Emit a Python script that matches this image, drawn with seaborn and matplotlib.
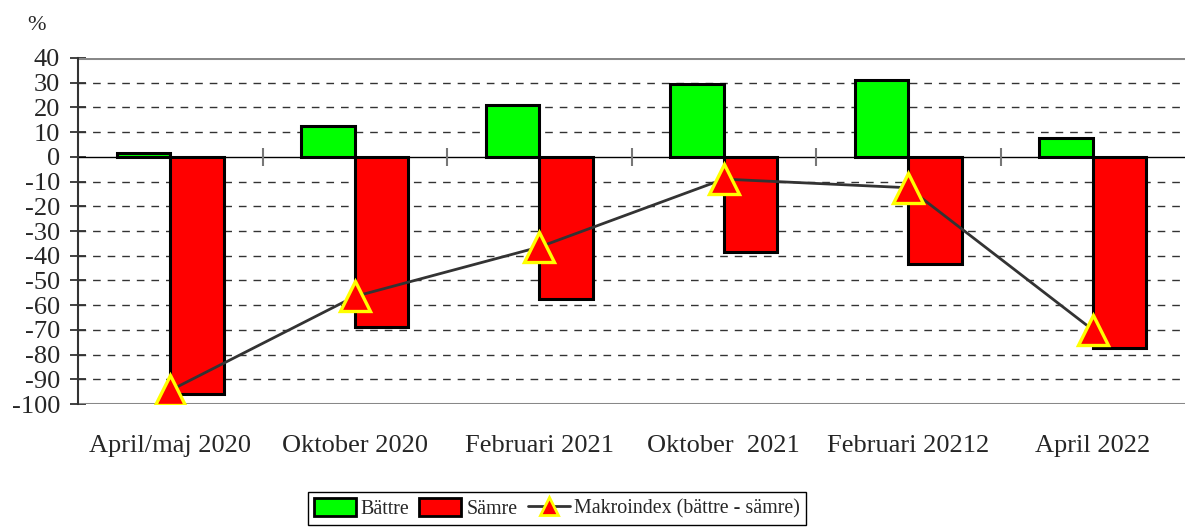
import pandas as pd
import seaborn as sns
import matplotlib.pyplot as plt
from matplotlib.patches import Patch
from matplotlib.lines import Line2D

# Survey rounds and answers (percent)
periods = ["April/maj 2020", "Oktober 2020", "Februari 2021",
           "Oktober  2021", "Februari 20212", "April 2022"]
battre = [1.5, 12.5, 21, 29.5, 31, 7.5]
samre = [-96, -69, -57.5, -38.5, -43.5, -77.5]
makroindex = [-94.5, -56.5, -36.5, -9, -12.5, -70]
y_ticks = list(range(-100, 41, 10))

sns.set_theme(style="white")
plt.rcParams["font.family"] = ["Liberation Serif", "DejaVu Serif"]
plt.rcParams["axes.unicode_minus"] = False

df = pd.DataFrame({
    "period": periods * 2,
    "value": battre + samre,
    "serie": ["Bättre"] * len(periods) + ["Sämre"] * len(periods),
})

fig = plt.figure(figsize=(11.85, 5.27), dpi=100)
ax = fig.add_axes([78 / 1185, 1 - 404 / 527, 1 - 78 / 1185, (404 - 58) / 527])

# dashed grid first so bars sit on top
for y in y_ticks:
    if y in (0, 40, -100):
        continue
    ax.axhline(y, color="#333333", lw=1, ls=(0, (5.5, 5)), zorder=0)
ax.axhline(40, color="#888888", lw=2.2, zorder=1)
ax.axhline(-100, color="#888888", lw=2.2, zorder=1)
ax.axhline(0, color="black", lw=1, zorder=1)

sns.barplot(data=df, x="period", y="value", hue="serie",
            palette={"Bättre": "#00ff00", "Sämre": "#ff0000"},
            saturation=1, width=0.58, edgecolor="black", linewidth=2.2,
            legend=False, ax=ax, zorder=2)

# category separators on the zero line
ax.vlines([i + 0.5 for i in range(len(periods) - 1)], -3.6, 3.6,
          color="#777777", lw=1.5, zorder=1)

ax.plot(range(len(periods)), makroindex, color="#333333", lw=2,
        marker="^", markersize=21, markerfacecolor="#ff0000",
        markeredgecolor="#ffff00", markeredgewidth=2.4, zorder=3)

ax.set_xlim(-0.5, len(periods) - 0.5)
ax.set_ylim(-100, 40)
ax.set_yticks(y_ticks)
ax.set_xlabel("")
ax.set_ylabel("")
ax.tick_params(axis="y", direction="inout", length=12, width=1.3,
               color="#333333", labelsize=19, pad=7, left=True)
ax.tick_params(axis="x", length=0, labelsize=19, pad=22)
for s in ["top", "right", "bottom"]:
    ax.spines[s].set_visible(False)
ax.spines["left"].set_color("#333333")
ax.spines["left"].set_linewidth(1.5)

fig.text(36 / 1185, 1 - 25 / 527, "%", fontsize=16, ha="center", va="center")

handles = [
    Patch(facecolor="#00ff00", edgecolor="black", linewidth=2),
    Patch(facecolor="#ff0000", edgecolor="black", linewidth=2),
    Line2D([0], [0], color="#333333", lw=2, marker="^", markersize=13,
           markerfacecolor="#ff0000", markeredgecolor="#ffff00",
           markeredgewidth=2),
]
leg = fig.legend(handles, ["Bättre", "Sämre", "Makroindex (bättre - sämre)"],
                 loc="upper center", bbox_to_anchor=(557 / 1185, 1 - 492 / 527),
                 borderaxespad=0, ncol=3, fontsize=14.4, frameon=True,
                 fancybox=False, edgecolor="black", framealpha=1,
                 borderpad=0.3, handlelength=2.1, handleheight=1.0,
                 handletextpad=0.25, columnspacing=0.5)
leg.get_frame().set_linewidth(1)

fig.savefig("out.png", dpi=100)
